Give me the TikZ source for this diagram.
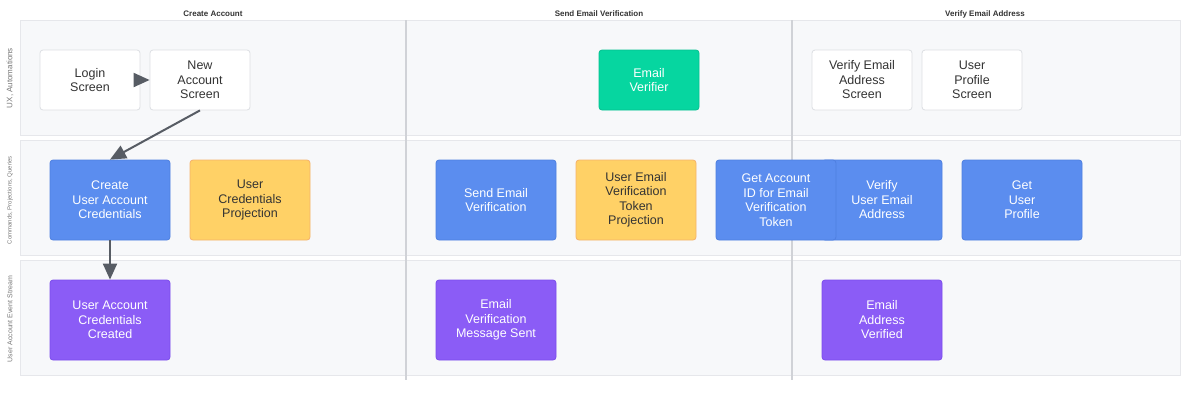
\documentclass[tikz,border=0pt]{standalone}
\usepackage{fontspec}
\setmainfont{Liberation Sans}
\usetikzlibrary{arrows.meta}
\definecolor{lanefill}{HTML}{F7F8FA}
\definecolor{laneline}{HTML}{E6E7EB}
\definecolor{sepline}{HTML}{D0D2D7}
\definecolor{cardline}{HTML}{DDDFE3}
\definecolor{txtdark}{HTML}{333333}
\definecolor{cmdblue}{HTML}{5B8DEF}
\definecolor{cmdline}{HTML}{4F7FE0}
\definecolor{projyel}{HTML}{FFD166}
\definecolor{projline}{HTML}{F5B26B}
\definecolor{evpurp}{HTML}{8B5CF6}
\definecolor{evline}{HTML}{7C4DEB}
\definecolor{autogreen}{HTML}{06D6A0}
\definecolor{autoline}{HTML}{05C091}
\definecolor{arrowgray}{HTML}{575C64}
\definecolor{labelgray}{HTML}{777777}
\tikzset{
  lane/.style={fill=lanefill, draw=laneline, line width=1pt},
  card/.style={rounded corners=3pt, line width=0.8pt, align=center, font=\fontsize{12.5}{14.5}\selectfont, inner sep=0pt},
  screen/.style={card, fill=white, draw=cardline, text=txtdark, minimum width=100pt, minimum height=60pt},
  auto/.style={card, fill=autogreen, draw=autoline, text=white, minimum width=100pt, minimum height=60pt},
  cmd/.style={card, fill=cmdblue, draw=cmdline, text=white, minimum width=120pt, minimum height=80pt},
  proj/.style={card, fill=projyel, draw=projline, text=txtdark, minimum width=120pt, minimum height=80pt},
  evt/.style={card, fill=evpurp, draw=evline, text=white, minimum width=120pt, minimum height=80pt},
  colhead/.style={font=\fontsize{8}{9}\selectfont\bfseries, text=txtdark},
  lanelabel/.style={rotate=90, text=labelgray},
  flow/.style={draw=arrowgray, line width=2pt, -{Triangle[length=16pt,width=14pt]}},
}
\begin{document}
\begin{tikzpicture}[x=1pt,y=-1pt]
\useasboundingbox (0,0) rectangle (1200,400);
% lanes
\path[lane] (20,20) rectangle (1180,135);
\path[lane] (20,140) rectangle (1180,255);
\path[lane] (20,260) rectangle (1180,375);
% separators
\draw[sepline, line width=1.5pt] (406,20) -- (406,380);
\draw[sepline, line width=1.5pt] (792,20) -- (792,380);
% column headers
\node[colhead] (h1) at (213,14) {Create Account};
\node[colhead] (h2) at (599,14) {Send Email Verification};
\node[colhead] (h3) at (985,14) {Verify Email Address};
% lane labels
\node[lanelabel, font=\fontsize{8}{9}\selectfont] (l1) at (10,78) {UX, Automations};
\node[lanelabel, font=\fontsize{6}{7}\selectfont] (l2) at (10,200) {Commands, Projections, Queries};
\node[lanelabel, font=\fontsize{7}{8}\selectfont] (l3) at (10,319) {User Account Event Stream};
% row 1
\node[screen] (login) at (90,80) {Login\\Screen};
\node[screen] (newacc) at (200,80) {New\\Account\\Screen};
\node[auto] (verifier) at (649,80) {Email\\Verifier};
\node[screen] (vscreen) at (862,80) {Verify Email\\Address\\Screen};
\node[screen] (pscreen) at (972,80) {User\\Profile\\Screen};
% row 2
\node[cmd] (create) at (110,200) {Create\\User Account\\Credentials};
\node[proj] (credproj) at (250,200) {User\\Credentials\\Projection};
\node[cmd] (send) at (496,200) {Send Email\\Verification};
\node[proj] (tokproj) at (636,200) {User Email\\Verification\\Token\\Projection};
\node[cmd] (verify) at (882,200) {Verify\\User Email\\Address};
\node[cmd] (getid) at (776,200) {Get Account\\ID for Email\\Verification\\Token};
\node[cmd] (getprof) at (1022,200) {Get\\User\\Profile};
% row 3
\node[evt] (created) at (110,320) {User Account\\Credentials\\Created};
\node[evt] (sent) at (496,320) {Email\\Verification\\Message Sent};
\node[evt] (verified) at (882,320) {Email\\Address\\Verified};
% connectors
\draw[flow] (login.east) -- (newacc.west);
\draw[flow] (newacc.south) -- (create.north);
\draw[flow] (create.south) -- (created.north);
\end{tikzpicture}
\end{document}
